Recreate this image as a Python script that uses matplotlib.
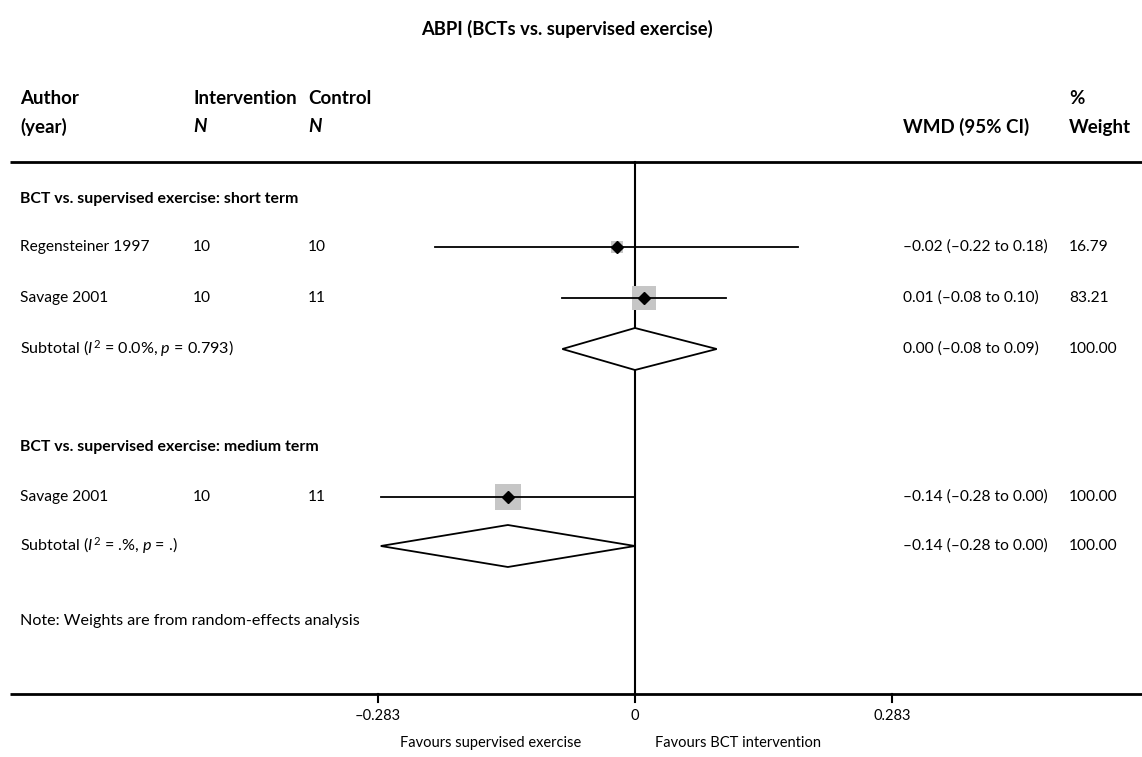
import numpy as np
import matplotlib.pyplot as plt
from matplotlib.patches import Rectangle, Polygon

plt.rcParams['font.family'] = ['Lato', 'DejaVu Sans']
plt.rcParams['mathtext.fontset'] = 'custom'
plt.rcParams['mathtext.rm'] = 'Lato'
plt.rcParams['mathtext.it'] = 'Lato:italic'

# study rows
studies = ['Regensteiner 1997', 'Savage 2001', 'Savage 2001']
n_int = [10, 10, 10]
n_ctl = [10, 11, 11]
wmd = [-0.02, 0.01, -0.14]
lo = [-0.22, -0.08, -0.28]
hi = [0.18, 0.10, 0.00]
weight = [16.79, 83.21, 100.00]

# pooled subgroup estimates
sub_labels = [r'Subtotal ($\mathit{I}^2$ = 0.0%, $\mathit{p}$ = 0.793)',
              r'Subtotal ($\mathit{I}^2$ = .%, $\mathit{p}$ = .)']
sub_wmd = [0.00, -0.14]
sub_lo = [-0.08, -0.28]
sub_hi = [0.09, 0.00]
sub_weight = [100.00, 100.00]

groups = ['BCT vs. supervised exercise: short term',
          'BCT vs. supervised exercise: medium term']
ticks = [-0.283, 0, 0.283]

# row positions (pixel rows from the top)
study_y = [247, 298, 497]
sub_y = [349, 546]
group_y = [199, 447]

W, H = 1142, 757
x0, scale = 635, 908.0


def px(p):
    return (p - x0) / scale


def fmt(v):
    s = '%.2f' % abs(v)
    return ('\u2013' + s) if v < 0 else s


def ci_text(m, a, b):
    return '%s (%s to %s)' % (fmt(m), fmt(a), fmt(b))


fig = plt.figure(figsize=(W / 100, H / 100), dpi=100)
ax = fig.add_axes([0, 0, 1, 1])
ax.set_xlim(px(0), px(W))
ax.set_ylim(H, 0)
ax.axis('off')

fs = 11.2
col_auth, col_int, col_ctl, col_wmd, col_wt = px(20), px(193), px(308), px(903), px(1069)

ax.text(px(567), 29, 'ABPI (BCTs vs. supervised exercise)', ha='center', va='center',
        fontsize=13.2, fontweight='bold')

# column headers
hd = dict(va='center', fontsize=13.5, fontweight='bold')
ax.text(col_auth, 99, 'Author', **hd)
ax.text(col_auth, 127, '(year)', **hd)
ax.text(col_int, 99, 'Intervention', **hd)
ax.text(col_int, 127, 'N', style='italic', **hd)
ax.text(col_ctl, 99, 'Control', **hd)
ax.text(col_ctl, 127, 'N', style='italic', **hd)
ax.text(col_wmd, 127, 'WMD (95% CI)', **hd)
ax.text(col_wt, 99, '%', **hd)
ax.text(col_wt, 127, 'Weight', **hd)

ax.plot([px(10), px(W)], [162, 162], color='black', lw=2, solid_capstyle='butt')
ax.plot([px(10), px(W)], [694, 694], color='black', lw=2, solid_capstyle='butt')
ax.plot([0, 0], [162, 694], color='black', lw=1.5)

for g, y in zip(groups, group_y):
    ax.text(col_auth, y, g, va='center', fontsize=11.4, fontweight='bold')

for i in range(len(studies)):
    y = study_y[i]
    ax.text(col_auth, y, studies[i], va='center', fontsize=fs)
    ax.text(col_int, y, str(n_int[i]), va='center', fontsize=fs)
    ax.text(col_ctl, y, str(n_ctl[i]), va='center', fontsize=fs)
    ax.text(col_wmd, y, ci_text(wmd[i], lo[i], hi[i]), va='center', fontsize=fs)
    ax.text(col_wt, y, '%.2f' % weight[i], va='center', fontsize=fs)
    side = 24 * np.sqrt(weight[i] / 100.0) + 2
    ax.add_patch(Rectangle((wmd[i] - side / 2 / scale, y - side / 2), side / scale, side,
                           facecolor='#c6c6c6', edgecolor='none', zorder=2))
    ax.plot([lo[i], hi[i]], [y, y], color='black', lw=1.3, zorder=3)
    ax.plot(wmd[i], y, marker='D', color='black', markersize=6, zorder=4)

for i in range(len(sub_labels)):
    y = sub_y[i]
    ax.text(col_auth, y, sub_labels[i], va='center', fontsize=11.6)
    ax.text(col_wmd, y, ci_text(sub_wmd[i], sub_lo[i], sub_hi[i]), va='center', fontsize=fs)
    ax.text(col_wt, y, '%.2f' % sub_weight[i], va='center', fontsize=fs)
    ax.add_patch(Polygon([[sub_lo[i], y], [sub_wmd[i], y - 21], [sub_hi[i], y], [sub_wmd[i], y + 21]],
                         closed=True, facecolor='white', edgecolor='black', lw=1.3, zorder=3))

ax.text(col_auth, 621, 'Note: Weights are from random-effects analysis', va='center', fontsize=11.6)

# x axis ticks and labels
for t in ticks:
    ax.plot([t, t], [694, 702], color='black', lw=1.5)
    lab = '0' if t == 0 else ('\u2013%.3f' % abs(t) if t < 0 else '%.3f' % t)
    ax.text(t, 716, lab, ha='center', va='center', fontsize=10.5)
ax.text(px(491), 743, 'Favours supervised exercise', ha='center', va='center', fontsize=10.5)
ax.text(px(738), 743, 'Favours BCT intervention', ha='center', va='center', fontsize=10.5)

fig.savefig('out.png', dpi=100)
